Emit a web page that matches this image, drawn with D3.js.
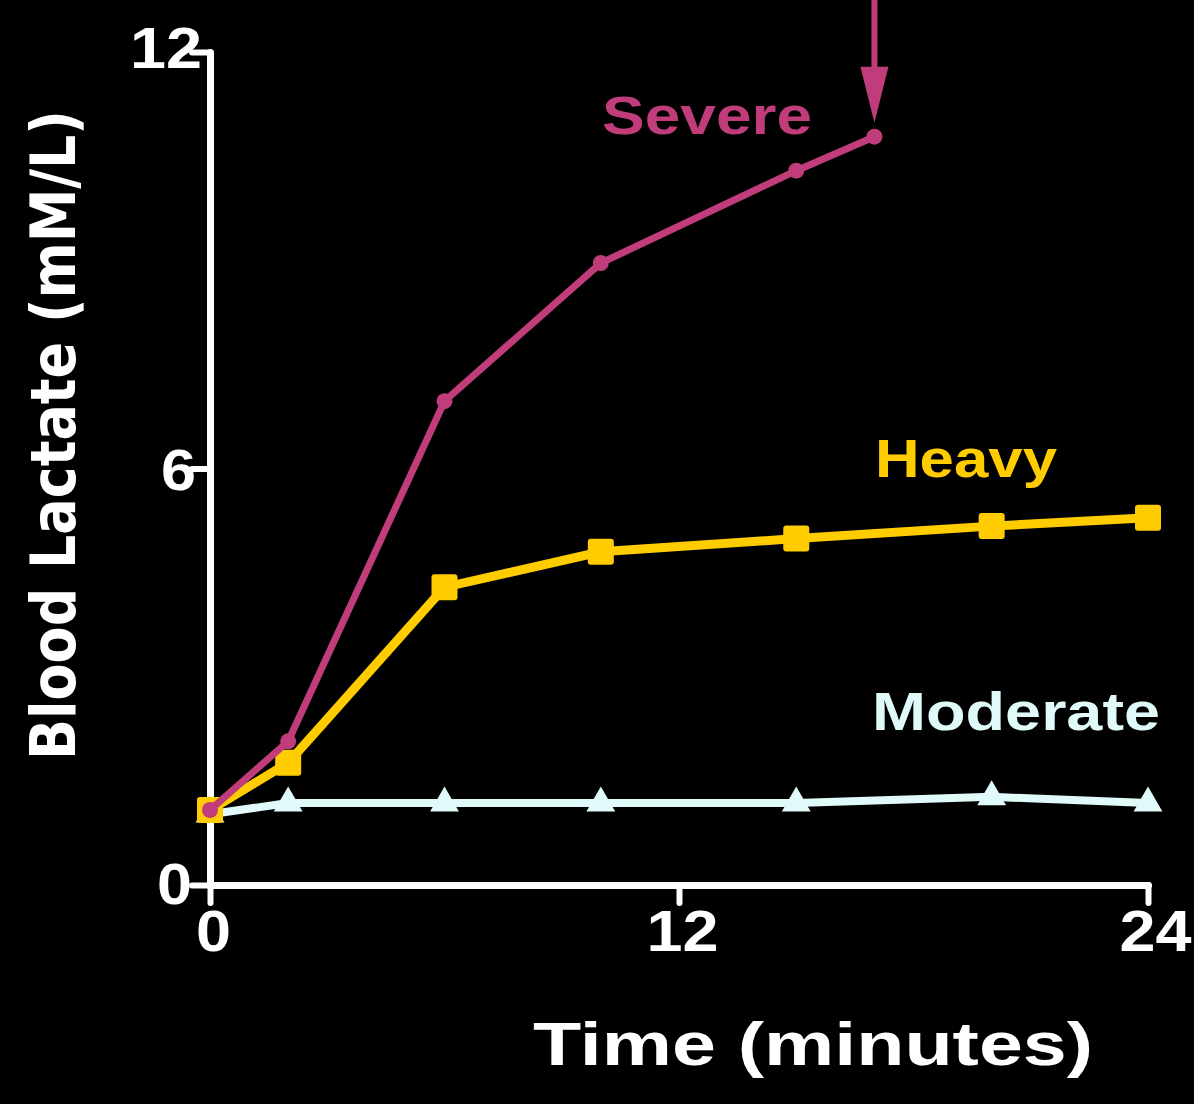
<!DOCTYPE html>
<html><head><meta charset="utf-8">
<script src="https://cdn.jsdelivr.net/npm/d3@7"></script>
<style>html,body{margin:0;padding:0;background:#000;}svg{display:block;}</style>
</head><body>
<svg id="c" width="1194" height="1104"></svg>
<script>
const xTicks = [0, 12, 24];
const yTicks = [0, 6, 12];
const severeTime = [0, 2, 6, 10, 15, 17];
const severeLactate = [1.08, 2.07, 6.97, 8.96, 10.29, 10.78];
const heavyTime = [0, 2, 6, 10, 15, 20, 24];
const heavyLactate = [1.08, 1.76, 4.29, 4.80, 4.99, 5.17, 5.29];
const moderateTime = [0, 2, 6, 10, 15, 20, 24];
const moderateLactate = [1.02, 1.18, 1.18, 1.18, 1.18, 1.27, 1.18];
const seriesNames = ["Severe", "Heavy", "Moderate"];
const xTitle = "Time (minutes)";
const yTitle = "Blood Lactate (mM/L)";

const svg = d3.select("#c");
svg.append("rect").attr("width",1194).attr("height",1104).attr("fill","#000");
const x = d3.scaleLinear().domain([0,24]).range([210,1148]);
const y = d3.scaleLinear().domain([0,12]).range([885,52]);

const font = "'Liberation Sans', Arial, sans-serif";
// axes
const xAxis = svg.append("g").attr("transform","translate(0,885)")
  .call(d3.axisBottom(x).tickValues(xTicks).tickSize(18).tickPadding(8).tickSizeOuter(0));
const yAxis = svg.append("g").attr("transform","translate(210,0)")
  .call(d3.axisLeft(y).tickValues(yTicks).tickSize(18).tickPadding(2).tickSizeOuter(0));
[xAxis,yAxis].forEach(g=>{
  g.select(".domain").attr("stroke","#fff").attr("stroke-width",7).attr("stroke-linecap","round");
  g.selectAll(".tick line").attr("stroke","#fff").attr("stroke-width",6).attr("stroke-linecap","round");
  g.selectAll(".tick text").attr("fill","#fff").attr("font-family",font).attr("font-weight","bold")
    .attr("font-size",57)
    .each(function(d){ d3.select(this).attr("textLength", String(d).length > 1 ? 72 : 35).attr("lengthAdjust","spacingAndGlyphs"); });
});
xAxis.selectAll(".tick text").attr("dy","0.71em").attr("dx",3);
xAxis.selectAll(".tick").filter(d=>d===24).select("text").attr("dx", 7);
yAxis.selectAll(".tick text").attr("dy","0.36em");
yAxis.selectAll(".tick").filter(d=>d===12).select("text").attr("dy","0.28em").attr("x",-8);
yAxis.selectAll(".tick").filter(d=>d===6).select("text").attr("x",-14);
yAxis.selectAll(".tick").filter(d=>d===0).select("text").attr("dy","0.32em").attr("x",-18);

// titles
svg.append("text").attr("x",813).attr("y",1065).attr("text-anchor","middle")
  .attr("fill","#fff").attr("font-family",font).attr("font-weight","bold").attr("font-size",62)
  .attr("textLength",560).attr("lengthAdjust","spacingAndGlyphs").text(xTitle);
svg.append("text").attr("transform","translate(75,435) rotate(-90)").attr("text-anchor","middle")
  .attr("fill","#fff").attr("font-family","'DejaVu Sans', sans-serif").attr("font-weight","bold").attr("font-size",62)
  .attr("textLength",650).attr("lengthAdjust","spacingAndGlyphs").text(yTitle);

const line = d3.line().x(d=>x(d[0])).y(d=>y(d[1]));
const zip = (a,b)=>a.map((v,i)=>[v,b[i]]);
const sev = zip(severeTime, severeLactate), hev = zip(heavyTime, heavyLactate), mod = zip(moderateTime, moderateLactate);
const cSev = "#C03C7A", cHev = "#FFCC00", cMod = "#E0FAFA";

// moderate
svg.append("path").attr("d",line(mod)).attr("fill","none").attr("stroke",cMod).attr("stroke-width",8);
svg.selectAll(".tri").data(mod).join("path").attr("fill",cMod)
  .attr("transform",d=>`translate(${x(d[0])},${y(d[1])})`)
  .attr("d", d3.symbol().type(d3.symbolTriangle).size(360));
// heavy
svg.append("path").attr("d",line(hev)).attr("fill","none").attr("stroke",cHev).attr("stroke-width",9);
svg.selectAll(".sq").data(hev).join("rect").attr("fill",cHev)
  .attr("x",d=>x(d[0])-13).attr("y",d=>y(d[1])-13).attr("width",26).attr("height",26).attr("rx",3);
// severe
svg.append("path").attr("d",line(sev)).attr("fill","none").attr("stroke",cSev).attr("stroke-width",7);
svg.selectAll(".ci").data(sev).join("circle").attr("fill",cSev)
  .attr("cx",d=>x(d[0])).attr("cy",d=>y(d[1])).attr("r",8);

// arrow to last severe point
const last = sev[sev.length-1];
const ax = x(last[0]), tipY = y(last[1]) - 14;
svg.append("line").attr("x1",ax).attr("x2",ax).attr("y1",0).attr("y2",tipY-40).attr("stroke",cSev).attr("stroke-width",6);
svg.append("path").attr("fill",cSev)
  .attr("d",`M${ax-14},${tipY-56} L${ax+14},${tipY-56} L${ax},${tipY} Z`);

// series labels
const labelPos = [[707,134,cSev,210],[966,477,cHev,182],[1016,730,cMod,288]];
seriesNames.forEach((n,i)=>{
  svg.append("text").attr("x",labelPos[i][0]).attr("y",labelPos[i][1]).attr("text-anchor","middle")
    .attr("fill",labelPos[i][2]).attr("font-family",font).attr("font-weight","bold").attr("font-size",54)
    .attr("textLength",labelPos[i][3]).attr("lengthAdjust","spacingAndGlyphs").text(n);
});
</script>
</body></html>
